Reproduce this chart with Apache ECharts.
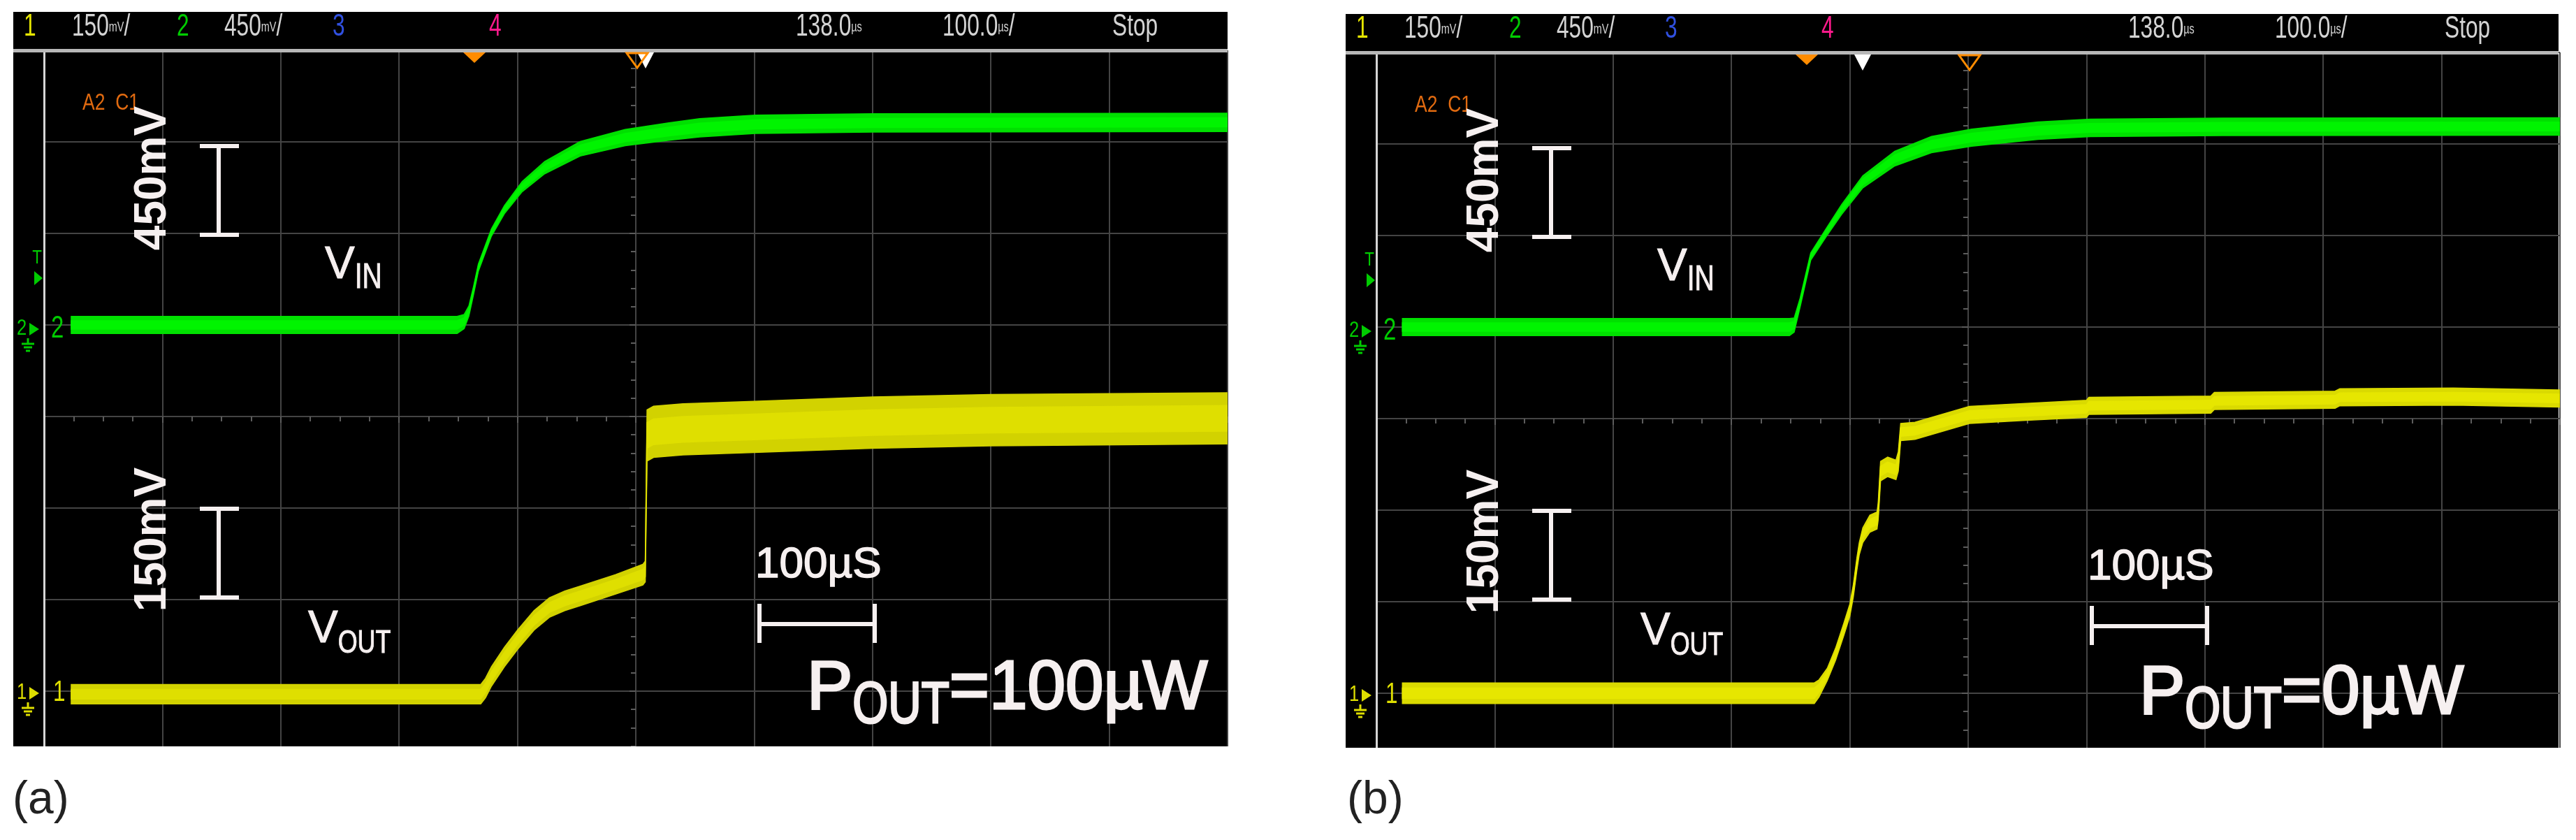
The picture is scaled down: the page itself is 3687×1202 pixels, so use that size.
<!DOCTYPE html>
<html><head><meta charset="utf-8">
<script src="https://cdn.jsdelivr.net/npm/echarts@6/dist/echarts.min.js"></script>
<style>html,body{margin:0;padding:0;background:#fff;overflow:hidden}#c{width:3687px;height:1202px}</style>
</head><body><div id="c"></div>
<script>
// ===== DATA (time in µs from left screen edge, 100 µs/div; voltages in mV) =====
// Panel (a): P_OUT = 100 µW
const aTimeVin   = [23, 349, 355, 359, 363, 367, 378, 389, 404, 423, 453, 491, 528, 554, 601, 700, 1000];
const aVin       = [0, 0, 17, 69, 172, 282, 454, 567, 680, 773, 866, 921, 951, 969, 986, 993, 996];
const aVinSpread = [42, 42, 35, 25, 20, 18, 18, 20, 25, 30, 36, 40, 43, 45, 45, 45, 45];
const aTimeVout   = [23, 369, 373, 378, 389, 400, 414, 427, 440, 453, 483, 506, 508, 509.5, 515, 540, 600, 700, 800, 1000];
const aVout       = [-5, -5, 5, 24, 56, 84, 116, 137, 148, 156, 175, 191, 196, 419, 425, 429, 433, 440, 444, 447];
const aVoutSpread = [16, 16, 16, 16, 16, 16, 16, 16, 16, 16, 16, 17, 17, 42, 42, 42, 42, 42, 42, 42];
// Panel (b): P_OUT = 0 µW
const bTimeVin   = [22, 349, 353, 358, 367, 380, 393, 411, 438, 469, 503, 559, 603, 715, 1000];
const bVin       = [0, 0, 10, 120, 347, 464, 577, 714, 828, 897, 931, 965, 979, 984, 986];
const bVinSpread = [42, 42, 35, 22, 18, 20, 24, 30, 36, 40, 42, 43, 43, 43, 43];
const bTimeVout   = [22, 370, 374, 381, 388, 395, 400, 403, 406, 408, 411, 417, 423, 424, 426, 432, 439, 441, 443, 455, 501, 549, 600, 602, 705, 708, 810, 814, 910, 1000];
const bVout       = [0, 0, 8, 31, 64, 105, 136, 168, 212, 237, 259, 278, 283, 298, 364, 371, 366, 380, 428, 430, 456, 461, 466, 471, 473, 479, 481, 485, 486, 483];
const bVoutSpread = [17, 17, 14, 10, 10, 10, 10, 10, 10, 10, 12, 14, 14, 14, 16, 16, 16, 16, 14, 14, 14, 14, 14, 14, 14, 14, 14, 14, 14, 14];
// scope settings / labels
const ch1Scale = 150;   // mV/div (V_OUT)
const ch2Scale = 450;   // mV/div (V_IN)
const headerDelay = '138.0';
const headerTimebase = '100.0';
const headerState = 'Stop';
const powerLabels = ['=100µW', '=0µW'];
const panelLetters = ['(a)', '(b)'];

// ===== STYLE =====
const FS = "'Liberation Sans', Arial, Helvetica, sans-serif";
const GRIDC = '#444444', TICKC = '#5c5c5c';
const NARROW = 0.78;

const mctx = document.createElement('canvas').getContext('2d');
function tw(str, size, weight) { mctx.font = (weight || 'normal') + ' ' + size + 'px ' + FS; return mctx.measureText(str).width; }

const G = [];
function rect(x, y, w, h, fill, z) { G.push({type:'rect', z: z, silent:true, shape:{x, y, width:w, height:h}, style:{fill}}); }
function line(x1, y1, x2, y2, stroke, w, z) { G.push({type:'line', z: z || 50, silent:true, shape:{x1, y1, x2, y2}, style:{stroke, lineWidth:w}}); }
function poly(points, fill, stroke, z) { G.push({type:'polygon', z: z || 50, silent:true, shape:{points}, style:{fill: fill || 'none', stroke: stroke || 'none', lineWidth: 3}}); }
function text(x, y, str, size, color, o) {
  o = o || {};
  const st = {text: str, fill: color, fontSize: size, fontFamily: FS, fontWeight: o.fw || 'normal',
              textAlign: o.al || 'left', textVerticalAlign: o.va || 'middle'};
  if (o.rich) st.rich = o.rich;
  if (o.thick) { st.stroke = color; st.lineWidth = o.thick; }
  G.push({type:'text', x, y, rotation: o.rot || 0, scaleX: o.sx || 1, z: o.z || 50, silent:true, style: st});
}
function ground(cx, y, color, dx, dy) {
  line(cx + dx, y + dy, cx + dx, y + 8 + dy, color, 3);
  line(cx - 9 + dx, y + 8 + dy, cx + 9 + dx, y + 8 + dy, color, 3);
  line(cx - 6 + dx, y + 13 + dy, cx + 6 + dx, y + 13 + dy, color, 3);
  line(cx - 3 + dx, y + 18 + dy, cx + 3 + dx, y + 18 + dy, color, 3);
}
// main text followed by a narrow subscript (and optional trailing text)
function subText(x, y, main, sub, tail, size, subSize, subDy, color, thick) {
  text(x, y, main, size, color, {thick});
  const xs = x + tw(main, size);
  text(xs, y + subDy, sub, subSize, color, {sx: NARROW, thick});
  if (tail) text(xs + tw(sub, subSize) * NARROW, y, tail, size, color, {thick});
}

function panel(i, dx, dy, bottom, trigX) {
  // black screen
  rect(19 + dx, 17 + dy, 1738 - (i ? 2 : 0), bottom - 17 - dy, '#000', -100);
  rect(19 + dx, 70 + dy, 1738 - (i ? 2 : 0), 5, '#b8b8b8', 40);
  rect(62 + dx, 75 + dy, 3, bottom - 75 - dy, '#d6d6d6', 40);
  // header
  const hy = 39 + dy, hc = '#d4d4d4';
  const rich = {n:{fontSize:44, fontFamily:FS, fill:hc}, u:{fontSize:20, fontFamily:FS, fill:hc}};
  const h = {sx: 0.72, rich};
  text(34 + dx, hy, '1', 44, '#e6e600', h);
  text(103 + dx, hy, '{n|' + ch1Scale + '}{u|mV}{n|/}', 44, hc, h);
  text(253 + dx, hy, '2', 44, '#00cc00', h);
  text(321 + dx, hy, '{n|' + ch2Scale + '}{u|mV}{n|/}', 44, hc, h);
  text(476 + dx, hy, '3', 44, '#3050e0', h);
  text(700 + dx, hy, '4', 44, '#ff1a8c', h);
  text(1139 + dx, hy, '{n|' + headerDelay + '}{u|µs}', 44, hc, h);
  text(1349 + dx, hy, '{n|' + headerTimebase + '}{u|µs}{n|/}', 44, hc, h);
  text(1592 + dx, hy, headerState, 44, hc, h);
  // markers on the top line
  const my = 75 + dy;
  poly([[663 + dx, my], [695 + dx, my], [679 + dx, my + 15]], '#ff8c00', null, 45);
  poly([[trigX - 12 + dx, my], [trigX + 12 + dx, my], [trigX + dx, my + 23]], '#ffffff', null, 45);
  poly([[897 + dx, my + 1], [927 + dx, my + 1], [912 + dx, my + 22]], null, '#ff8c00', 46);
  // left-side markers
  text(53 + dx, 369 + dy, 'T', 28, '#00cc00', {al:'center', sx:0.8});
  poly([[49 + dx, 388 + dy], [49 + dx, 408 + dy], [61 + dx, 398 + dy]], '#00cc00', null);
  text(24 + dx, 470 + dy, '2', 32, '#00cc00', {sx:0.8});
  poly([[42 + dx, 462 + dy], [42 + dx, 480 + dy], [56 + dx, 471 + dy]], '#00cc00', null);
  ground(40, 484, '#00cc00', dx, dy);
  text(73 + dx, 471 + dy, '2', 44, '#00cc00', {sx:0.75});
  text(24 + dx, 991 + dy, '1', 32, '#dede00', {sx:0.8});
  poly([[42 + dx, 983 + dy], [42 + dx, 1001 + dy], [56 + dx, 992 + dy]], '#dede00', null);
  ground(40, 1005, '#dede00', dx, dy);
  text(76 + dx, 991 + dy, '1', 42, '#dede00', {sx:0.75});
  text(118 + dx, 148 + dy, 'A2  C1', 34, '#e06a10', {sx:0.78});
  // annotations
  const W = '#f6f0f0';
  text(219 + dx, 255 + dy, '450mV', 64, W, {fw:'bold', al:'center', rot:Math.PI / 2});
  text(219 + dx, 772 + dy, '150mV', 64, W, {fw:'bold', al:'center', rot:Math.PI / 2});
  line(313 + dx, 207 + dy, 313 + dx, 338 + dy, W, 6);
  line(286 + dx, 209 + dy, 342 + dx, 209 + dy, W, 6);
  line(286 + dx, 336 + dy, 342 + dx, 336 + dy, W, 6);
  line(313 + dx, 726 + dy, 313 + dx, 857 + dy, W, 6);
  line(286 + dx, 728 + dy, 342 + dx, 728 + dy, W, 6);
  line(286 + dx, 855 + dy, 342 + dx, 855 + dy, W, 6);
  subText(465 + dx, 380 + dy, 'V', 'IN', '', 64, 50, 18, W, 1);
  subText(441 + dx, 901 + dy, 'V', 'OUT', '', 64, 46, 20, W, 1);
  text(1081 + dx, 809 + dy, '100µS', 62, W, {thick:1.5});
  line(1084 + dx, 893 + dy, 1255 + dx, 893 + dy, W, 6);
  line(1087 + dx, 864 + dy, 1087 + dx, 920 + dy, W, 6);
  line(1252 + dx, 864 + dy, 1252 + dx, 920 + dy, W, 6);
  subText(1155 + dx, 987 + dy + (i ? 4 : 0), 'P', 'OUT', powerLabels[i], 98, 84, 24, W, 3);
  // crop below the screen
  rect(i ? 1843 : 0, bottom, 1844, 1202 - bottom, '#ffffff', 100);
  text(18 + dx + (i ? 3 : 0), 1146, panelLetters[i], 66, '#222222', {z:101});
}
panel(0, 0, 0, 1068, 924);
panel(1, 1907, 3, 1070, 759);

// trace band: outer envelope plus a brighter core, both from the same centre / spread values
function band(xi, yi, t, c, s, color, core) {
  return {
    type:'custom', xAxisIndex:xi, yAxisIndex:yi, clip:true, z:3, silent:true,
    data:[[t[0], c[0]]],
    renderItem: function (params, api) {
      function shape(f, fill) {
        const pts = [];
        for (let k = 0; k < t.length; k++) pts.push(api.coord([t[k], c[k] + s[k] * f]));
        for (let k = t.length - 1; k >= 0; k--) pts.push(api.coord([t[k], c[k] - s[k] * f]));
        return {type:'polygon', shape:{points:pts}, style:{fill:fill, stroke:fill, lineWidth:1.5}};
      }
      return {type:'group', children:[shape(1, color), shape(0.5, core)]};
    }
  };
}

const xAxis = [], yAxis = [], grid = [];
[[63, 72], [1970, 75]].forEach(function (g, gi) {
  grid.push({left:g[0], top:g[1], width:1694, height:1048, show:false});
  const hidden = {axisLabel:{show:false}, axisTick:{show:false}};
  xAxis.push(Object.assign({gridIndex:gi, type:'value', min:0, max:1000, interval:100,
    axisLine:{show:false, onZero:false}, splitLine:{show:true, lineStyle:{color:GRIDC, width:2}}}, hidden));
  xAxis.push({gridIndex:gi, type:'value', min:-5, max:5, interval:1, axisLabel:{show:false}, splitLine:{show:false},
    axisLine:{show:true, onZero:true, onZeroAxisIndex:3 * gi + 2, lineStyle:{color:GRIDC, width:2}},
    axisTick:{show:true, inside:true, length:9, lineStyle:{color:TICKC, width:2}},
    minorTick:{show:true, splitNumber:4, length:7, lineStyle:{color:TICKC, width:2}}});
  yAxis.push(Object.assign({gridIndex:gi, type:'value', min:-ch1Scale, max:7 * ch1Scale, interval:ch1Scale,
    axisLine:{show:false, onZero:false}, splitLine:{show:true, lineStyle:{color:GRIDC, width:2}}}, hidden));
  yAxis.push({gridIndex:gi, type:'value', min:-5 * ch2Scale, max:3 * ch2Scale, interval:ch2Scale, show:false});
  yAxis.push({gridIndex:gi, type:'value', min:-4, max:4, interval:1, axisLabel:{show:false}, splitLine:{show:false},
    axisLine:{show:true, onZero:true, onZeroAxisIndex:2 * gi + 1, lineStyle:{color:GRIDC, width:2}},
    axisTick:{show:true, inside:true, length:9, lineStyle:{color:TICKC, width:2}},
    minorTick:{show:true, splitNumber:5, length:7, lineStyle:{color:TICKC, width:2}}});
});

const chart = echarts.init(document.getElementById('c'), null, {renderer:'canvas'});
chart.setOption({
  animation:false,
  backgroundColor:'#ffffff',
  grid, xAxis, yAxis,
  graphic:{elements:G},
  series:[
    band(0, 0, aTimeVout, aVout, aVoutSpread, '#d2d200', '#dfdf00'),
    band(0, 1, aTimeVin, aVin, aVinSpread, '#00e000', '#00f400'),
    band(2, 3, bTimeVout, bVout, bVoutSpread, '#dada00', '#e6e600'),
    band(2, 4, bTimeVin, bVin, bVinSpread, '#00e000', '#00f400')
  ]
});
</script></body></html>
